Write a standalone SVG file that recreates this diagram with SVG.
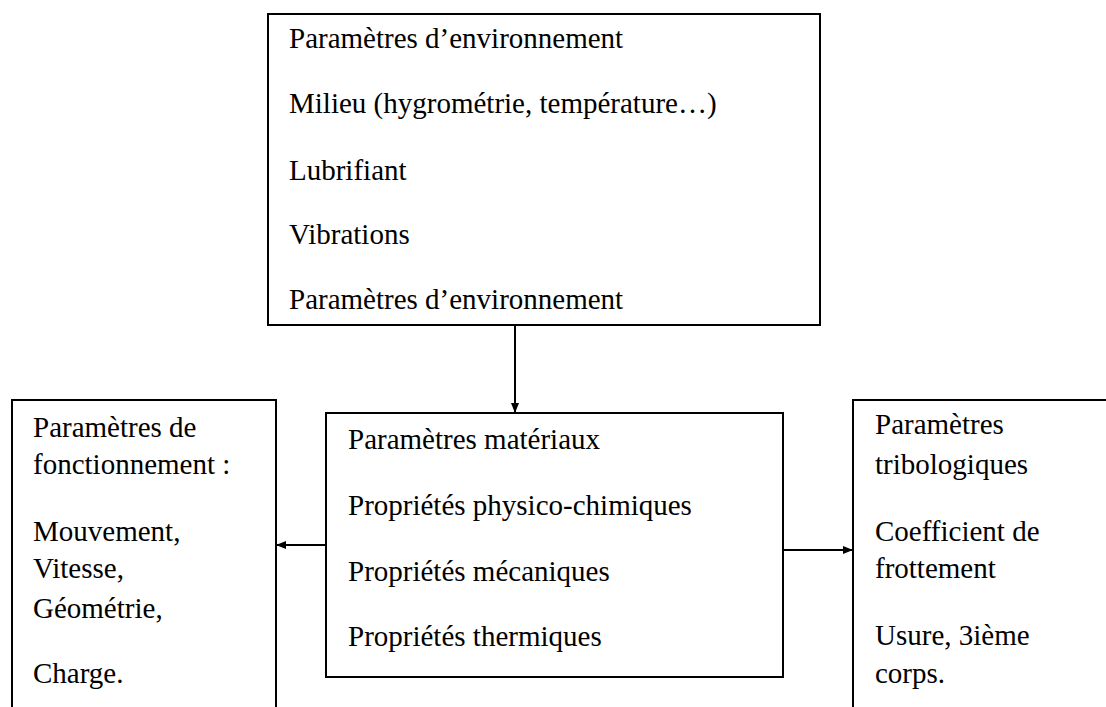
<svg xmlns="http://www.w3.org/2000/svg" width="1106" height="707" viewBox="0 0 1106 707">
<style>
.box{fill:#fff;stroke:#000;stroke-width:2}
.t{font-family:'Liberation Serif','Times New Roman',Tinos,'DejaVu Serif',serif;font-size:29px;fill:#000}
.c{stroke:#000;stroke-width:2;fill:none}
</style>
<defs>
<marker id="ah" markerWidth="10" markerHeight="8" refX="9" refY="4" orient="auto" markerUnits="userSpaceOnUse">
<path d="M0,0 L10,4 L0,8 Z" fill="#000"/>
</marker>
</defs>
<rect width="1106" height="707" fill="#fff"/>
<g id="env">
<rect class="box" x="268" y="14" width="552" height="311"/>
<text class="t" x="289" y="48">Paramètres d’environnement</text>
<text class="t" x="289" y="113">Milieu (hygrométrie, température…)</text>
<text class="t" x="289" y="180">Lubrifiant</text>
<text class="t" x="289" y="244">Vibrations</text>
<text class="t" x="289" y="309">Paramètres d’environnement</text>
</g>
<g id="mat">
<rect class="box" x="326" y="413" width="457" height="264"/>
<text class="t" x="348" y="449">Paramètres matériaux</text>
<text class="t" x="348" y="515">Propriétés physico-chimiques</text>
<text class="t" x="348" y="581">Propriétés mécaniques</text>
<text class="t" x="348" y="646">Propriétés thermiques</text>
</g>
<g id="fonc">
<rect class="box" x="12" y="400" width="264" height="330"/>
<text class="t" x="33" y="437">Paramètres de</text>
<text class="t" x="33" y="474">fonctionnement :</text>
<text class="t" x="33" y="541">Mouvement,</text>
<text class="t" x="33" y="578">Vitesse,</text>
<text class="t" x="33" y="618">Géométrie,</text>
<text class="t" x="33" y="683">Charge.</text>
</g>
<g id="trib">
<rect class="box" x="853" y="400" width="280" height="330"/>
<text class="t" x="875" y="434">Paramètres</text>
<text class="t" x="875" y="474">tribologiques</text>
<text class="t" x="875" y="541">Coefficient de</text>
<text class="t" x="875" y="578">frottement</text>
<text class="t" x="875" y="645">Usure, 3ième</text>
<text class="t" x="875" y="683">corps.</text>
</g>
<g id="connectors">
<line class="c" x1="515" y1="325" x2="515" y2="412" marker-end="url(#ah)"/>
<line class="c" x1="326" y1="545" x2="277" y2="545" marker-end="url(#ah)"/>
<line class="c" x1="783" y1="550" x2="852" y2="550" marker-end="url(#ah)"/>
</g>
</svg>
